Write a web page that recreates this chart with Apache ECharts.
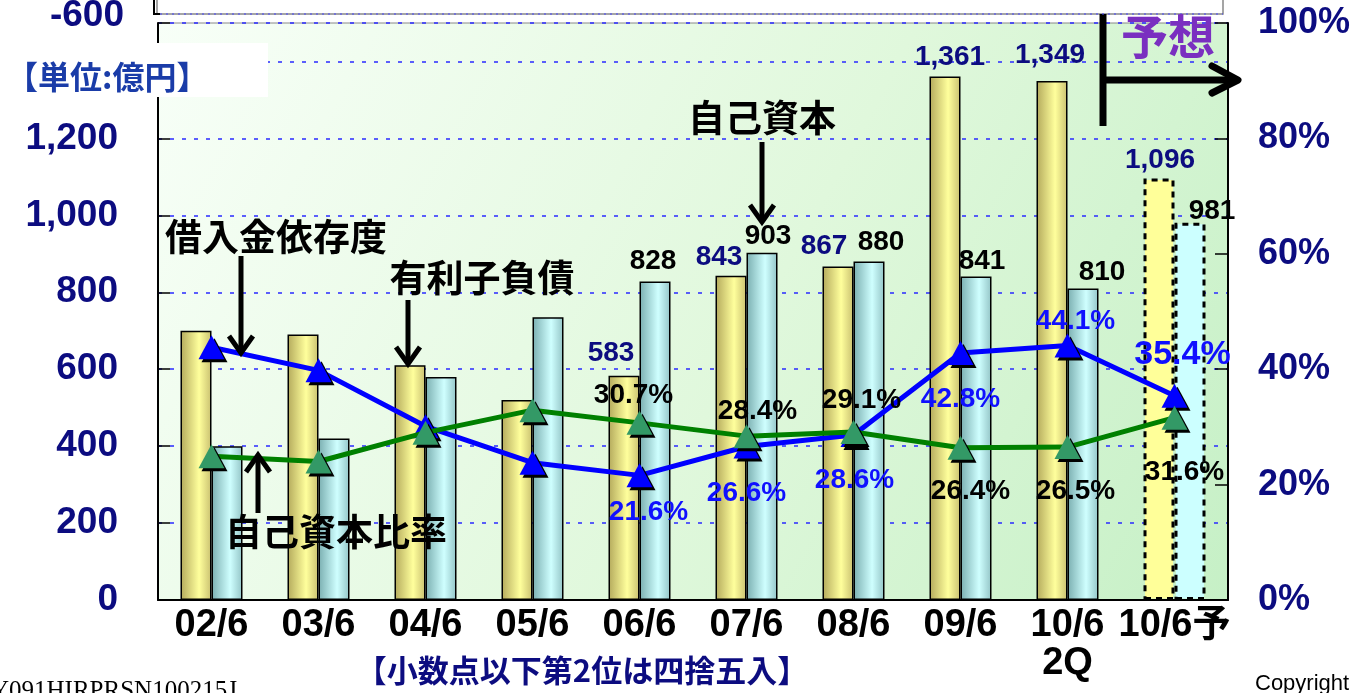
<!DOCTYPE html>
<html>
<head>
<meta charset="utf-8">
<script src="https://cdn.jsdelivr.net/npm/echarts@6/dist/echarts.min.js"></script>
<style>
  html, body { margin: 0; padding: 0; background: #fff; }
  #chart { width: 1365px; height: 693px; }
</style>
</head>
<body>
<div id="chart"></div>
<script>
// 決算期
const categories = ['02/6', '03/6', '04/6', '05/6', '06/6', '07/6', '08/6', '09/6', '10/6\n2Q', '10/6予'];
// 有利子負債（億円）
const debt = [700, 690, 610, 520, 583, 843, 867, 1361, 1349, 1096];
// 自己資本（億円）
const equity = [400, 420, 580, 735, 828, 903, 880, 841, 810, 981];
// 借入金依存度（%）
const dependence = [43.8, 39.8, 30.1, 23.8, 21.6, 26.6, 28.6, 42.8, 44.1, 35.4];
// 自己資本比率（%）
const equityRatio = [24.9, 24.0, 29.0, 32.9, 30.7, 28.4, 29.1, 26.4, 26.5, 31.6];
// 左軸・右軸の目盛
const leftTicks = [0, 200, 400, 600, 800, 1000, 1200, 1400];
const rightTicks = [0, 20, 40, 60, 80, 100];

const FONT = '"Liberation Sans", Arial, "Noto Sans CJK JP", sans-serif';
const CJK = '"Noto Sans CJK JP", "Liberation Sans", sans-serif';
const NAVY = '#0c0c80';
const FORECAST = categories.length - 1;

const fmtNum = v => String(v).replace(/\B(?=(\d{3})+(?!\d))/g, ',');

// 円柱風のグラデーション
function cyl(dark, light, dark2) {
  return new echarts.graphic.LinearGradient(0, 0, 1, 0, [
    { offset: 0, color: dark },
    { offset: 0.6, color: light },
    { offset: 1, color: dark2 }
  ]);
}
const yellowFill = cyl('#b3a95c', '#ffff9c', '#c9c070');
const blueFill = cyl('#7aaeb0', '#cfffff', '#93c4c6');

// ラベル位置の微調整（棒の上端・マーカー中心からのずれ）
const debtLabelOffset = { 4: [-13, -22], 5: [-12, -18], 6: [-14, -20], 7: [5, -19], 8: [-2, -26], 9: [1, -18] };
const equityLabelOffset = { 4: [-2, -20], 5: [6, -16], 6: [12, -19], 7: [6, -15], 8: [19, -16], 9: [22, -11] };
const depLabelOffset = { 4: [9, 37], 5: [0, 47], 6: [1, 45], 7: [0, 46], 8: [8, -24], 9: [8, -41] };
const ratioLabelOffset = { 4: [-6, -28], 5: [11, -25], 6: [8, -32], 7: [10, 44], 8: [8, 44], 9: [10, 55] };

function barData(values, fill, flat, offsets, labelColor) {
  return values.map((v, i) => {
    const item = { value: v };
    if (i === FORECAST) {
      item.itemStyle = { color: flat, borderColor: '#000', borderWidth: 3, borderType: [6, 5] };
    }
    if (offsets[i]) {
      item.label = {
        show: true, position: 'top', distance: 0, align: 'center', verticalAlign: 'middle',
        offset: offsets[i], color: labelColor, fontSize: 28, fontWeight: 'bold', fontFamily: FONT,
        formatter: p => fmtNum(p.value)
      };
    }
    return item;
  });
}

function lineData(values, offsets, color, bigIdx) {
  return values.map((v, i) => {
    const item = { value: v };
    if (offsets[i]) {
      item.label = {
        show: true, position: 'inside', align: 'center', verticalAlign: 'middle',
        offset: offsets[i], color: color, fontSize: i === bigIdx ? 34 : 28, fontWeight: 'bold', fontFamily: FONT,
        formatter: p => p.value.toFixed(1) + '%'
      };
    }
    return item;
  });
}

const chart = echarts.init(document.getElementById('chart'));

const arrowStyle = { stroke: '#000', lineWidth: 5, fill: null, lineJoin: 'miter', lineCap: 'butt' };
function vArrow(x, y1, y2) {
  // y1 → y2 の向きに矢印
  const dir = y2 > y1 ? 1 : -1;
  return [
    { type: 'polyline', shape: { points: [[x, y1], [x, y2 - dir * 2]] }, style: arrowStyle, z: 100 },
    { type: 'polyline', shape: { points: [[x - 12, y2 - dir * 17], [x, y2], [x + 12, y2 - dir * 17]] }, style: arrowStyle, z: 100 }
  ];
}
function noteText(text, x, y, size, color) {
  return {
    type: 'text', z: 100,
    style: {
      text: text, x: x, y: y, fill: color || '#000', align: 'center', verticalAlign: 'middle',
      font: 'bold ' + (size || 34) + 'px ' + CJK,
      textShadowColor: 'rgba(0,0,0,0.35)', textShadowOffsetX: 2, textShadowOffsetY: 2, textShadowBlur: 0
    }
  };
}

chart.setOption({
  animation: false,
  grid: {
    left: 158, right: 137, top: 23, bottom: 93,
    show: true, borderColor: '#888', borderWidth: 1,
    backgroundColor: new echarts.graphic.LinearGradient(0, 0, 1, 1, [
      { offset: 0, color: '#f8fff8' },
      { offset: 0.55, color: '#e0f8dc' },
      { offset: 1, color: '#c6f0c6' }
    ])
  },
  xAxis: {
    type: 'category',
    data: categories,
    boundaryGap: true,
    axisLine: { lineStyle: { color: '#000', width: 2 } },
    axisTick: { inside: true, length: 10, lineStyle: { color: '#000', width: 2 } },
    axisLabel: {
      margin: 7, color: '#000', fontSize: 38, fontWeight: 'bold', fontFamily: FONT, lineHeight: 38,
      interval: 0
    }
  },
  yAxis: [
    {
      type: 'value', min: 0, max: 1500, interval: 200,
      axisLine: { show: true, lineStyle: { color: '#000', width: 2 } },
      axisTick: { show: true, inside: true, length: 12, lineStyle: { color: '#000', width: 1.5 } },
      axisLabel: {
        margin: 40, color: NAVY, fontSize: 37, fontWeight: 'bold', fontFamily: FONT,
        formatter: v => leftTicks.includes(v) ? fmtNum(v) : ''
      },
      splitLine: { show: true, lineStyle: { color: '#2a2aff', width: 1.5, type: [4, 8] } }
    },
    {
      type: 'value', min: 0, max: 100, interval: 20,
      axisLine: { show: true, lineStyle: { color: '#000', width: 2 } },
      axisTick: { show: true, inside: true, length: 13, lineStyle: { color: '#000', width: 1.5 } },
      axisLabel: {
        margin: 30, color: NAVY, fontSize: 36, fontWeight: 'bold', fontFamily: FONT,
        formatter: v => rightTicks.includes(v) ? v + '%' : ''
      },
      splitLine: { show: false }
    }
  ],
  series: [
    {
      name: '有利子負債', type: 'bar', barWidth: 31, barGap: '0%', z: 2,
      itemStyle: { color: yellowFill, borderColor: '#000', borderWidth: 1.5 },
      data: barData(debt, yellowFill, '#ffff99', debtLabelOffset, NAVY)
    },
    {
      name: '自己資本', type: 'bar', barWidth: 31, barGap: '0%', z: 2,
      itemStyle: { color: blueFill, borderColor: '#000', borderWidth: 1.5 },
      data: barData(equity, blueFill, '#ccffff', equityLabelOffset, '#000')
    },
    {
      name: '借入金依存度', type: 'line', yAxisIndex: 1, z: 5,
      symbol: 'triangle', symbolSize: [26, 24],
      lineStyle: { color: '#0000ff', width: 5 },
      itemStyle: { color: '#0000ff', shadowColor: '#000', shadowOffsetX: 3, shadowOffsetY: 3, shadowBlur: 0 },
      data: lineData(dependence, depLabelOffset, '#1010ff', 9)
    },
    {
      name: '自己資本比率', type: 'line', yAxisIndex: 1, z: 6,
      symbol: 'triangle', symbolSize: [26, 24],
      lineStyle: { color: '#008000', width: 5 },
      itemStyle: { color: '#339966', shadowColor: '#000', shadowOffsetX: 3, shadowOffsetY: 3, shadowBlur: 0 },
      data: lineData(equityRatio, ratioLabelOffset, '#000', -1)
    }
  ],
  graphic: [
    // 上端の白い枠
    { type: 'rect', z: 100, shape: { x: 157, y: -5, width: 1066, height: 19 }, style: { fill: '#fff', stroke: '#888', lineWidth: 1.5 } },
    { type: 'line', z: 101, shape: { x1: 160, y1: 14, x2: 1223, y2: 14 }, style: { stroke: '#4444ff', lineWidth: 1, lineDash: [2, 4] } },
    { type: 'polyline', z: 101, shape: { points: [[154, 0], [154, 14], [160, 14]] }, style: { stroke: '#000', lineWidth: 2, fill: null } },
    { type: 'text', z: 101, style: { text: '-600', x: 124, y: 16, fill: NAVY, align: 'right', verticalAlign: 'middle', font: 'bold 37px ' + FONT } },
    // 単位
    { type: 'rect', z: 100, shape: { x: 0, y: 43, width: 268, height: 54 }, style: { fill: '#fff' } },
    { type: 'text', z: 101, style: { text: '【単位:億円】', x: 6, y: 77, fill: '#1a3ca8', align: 'left', verticalAlign: 'middle', font: 'bold 32px ' + CJK } },
    // 注記
    noteText('借入金依存度', 276, 237, 37),
    ...vArrow(241, 256, 353),
    noteText('有利子負債', 482, 278, 37),
    ...vArrow(408, 300, 364),
    noteText('自己資本', 762, 118, 37),
    ...vArrow(762, 142, 222),
    noteText('自己資本比率', 336, 532, 37),
    ...vArrow(258, 513, 455),
    // 予想
    { type: 'line', z: 100, shape: { x1: 1103, y1: 14, x2: 1103, y2: 126 }, style: { stroke: '#000', lineWidth: 7 } },
    { type: 'line', z: 100, shape: { x1: 1103, y1: 80, x2: 1236, y2: 80 }, style: { stroke: '#000', lineWidth: 7 } },
    { type: 'polyline', z: 100, shape: { points: [[1212, 66], [1238, 80], [1212, 93]] }, style: { stroke: '#000', lineWidth: 7, fill: null, lineJoin: 'round', lineCap: 'round' } },
    {
      type: 'text', z: 101,
      style: {
        text: '予想', x: 1168, y: 36, fill: '#7a2fc0', align: 'center', verticalAlign: 'middle',
        font: 'bold 47px ' + CJK,
        textShadowColor: 'rgba(120,80,140,0.45)', textShadowOffsetX: 3, textShadowOffsetY: 3, textShadowBlur: 0
      }
    },
    // 下部
    { type: 'text', z: 100, style: { text: '【小数点以下第2位は四捨五入】', x: 582, y: 670, fill: NAVY, align: 'center', verticalAlign: 'middle', font: 'bold 31px ' + CJK } },
    { type: 'text', z: 100, style: { text: 'Y091HIRPRSN100215J', x: -9, y: 679, fill: '#000', align: 'left', verticalAlign: 'top', font: '25px "Liberation Serif", serif' } },
    { type: 'text', z: 100, style: { text: 'Copyright', x: 1255, y: 673, fill: '#000', align: 'left', verticalAlign: 'top', font: '22px ' + FONT } }
  ]
});
</script>
</body>
</html>
